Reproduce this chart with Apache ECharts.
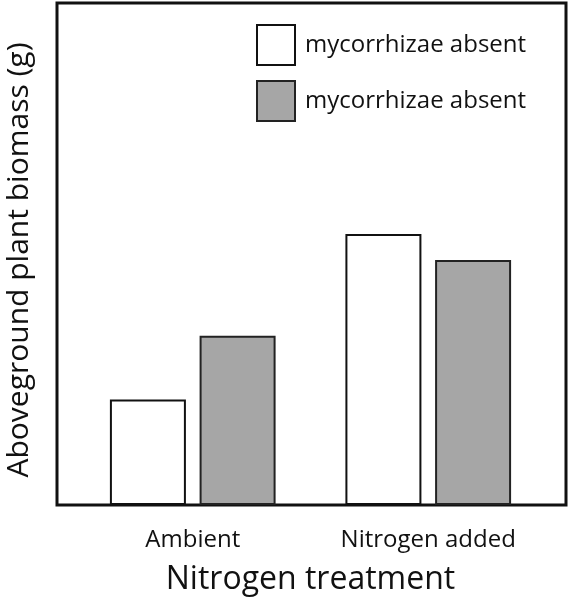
<!DOCTYPE html>
<html><head><meta charset="utf-8">
<script src="https://cdn.jsdelivr.net/npm/echarts@6/dist/echarts.min.js"></script>
<style>html,body{margin:0;padding:0;background:#fff}#c{width:572px;height:600px}</style>
</head><body><div id="c"></div>
<script>
const categories = ['Ambient', 'Nitrogen added'];
const seriesLabels = ['mycorrhizae absent', 'mycorrhizae absent'];
const absentValues = [2.1, 5.4];
const presentValues = [3.37, 4.88];
const yMax = 10;

const FONT = 'Open Sans';
const chart = echarts.init(document.getElementById('c'), null, {renderer: 'canvas'});
const seriesKeys = ['s0', 's1'];
chart.setOption({
  backgroundColor: '#fff',
  animation: false,
  grid: [
    {left: 57, right: 6, top: 3, bottom: 95, show: true, borderColor: '#111', borderWidth: 3,
     backgroundColor: 'transparent', containLabel: false, outerBoundsMode: 'none'},
    {left: 75, right: 26, top: 3, bottom: 95, containLabel: false, outerBoundsMode: 'none'}
  ],
  xAxis: [
    {gridIndex: 0, type: 'value', min: 0, max: 1, show: false},
    {gridIndex: 1, type: 'category', data: categories,
     axisLine: {show: false}, axisTick: {show: false},
     axisLabel: {fontFamily: FONT, fontSize: 24, color: '#111', margin: 23},
     name: 'Nitrogen treatment', nameLocation: 'middle', nameGap: 59,
     nameTextStyle: {fontFamily: FONT, fontSize: 32, color: '#111'}}
  ],
  yAxis: [
    {gridIndex: 0, type: 'value', min: 0, max: yMax, show: false},
    {gridIndex: 1, type: 'value', min: 0, max: yMax,
     axisLine: {show: false}, axisTick: {show: false}, axisLabel: {show: false}, splitLine: {show: false},
     name: 'Aboveground plant biomass (g)', nameLocation: 'middle', nameGap: 41,
     nameTextStyle: {fontFamily: FONT, fontSize: 30, color: '#111', padding: [0, 12, 0, 0]}}
  ],
  legend: {
    orient: 'vertical', left: 251, top: 19, itemWidth: 38, itemHeight: 40, itemGap: 14,
    icon: 'rect',
    data: seriesKeys,
    formatter: function (n) { return seriesLabels[seriesKeys.indexOf(n)]; },
    textStyle: {fontFamily: FONT, fontSize: 24, color: '#111', padding: [0, 0, 0, 5]},
    selectedMode: false
  },
  series: [
    {name: 's0', type: 'bar', xAxisIndex: 1, yAxisIndex: 1, data: absentValues, barWidth: 76, barGap: '18%',
     itemStyle: {color: '#fff', borderColor: '#111', borderWidth: 2}},
    {name: 's1', type: 'bar', xAxisIndex: 1, yAxisIndex: 1, data: presentValues, barWidth: 76, barGap: '18%',
     itemStyle: {color: '#a6a6a6', borderColor: '#222', borderWidth: 2}}
  ]
});
</script></body></html>
